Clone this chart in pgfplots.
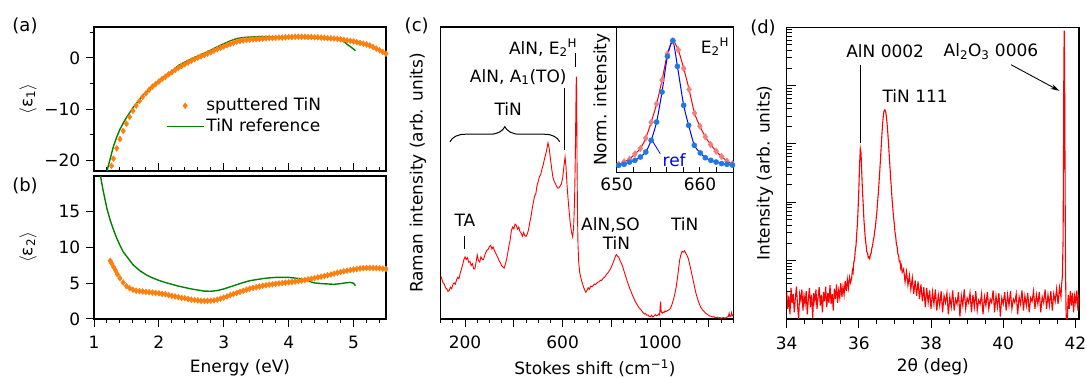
\documentclass[border=0pt]{standalone}
\usepackage{pgfplots}
\pgfplotsset{compat=1.18}
\usepackage{fontspec}
\setmainfont{DejaVu Sans}
\usetikzlibrary{decorations.pathreplacing,arrows.meta}
\definecolor{myorange}{RGB}{255,127,14}
\definecolor{mygreen}{RGB}{0,128,0}
\definecolor{lcoral}{RGB}{240,128,128}
\definecolor{mblue}{RGB}{30,120,230}
\newcommand{\fs}{\fontsize{17}{20}\selectfont}
\pgfplotsset{
  every axis/.append style={
    scale only axis,
    axis line style={line width=1.1pt, black},
    tick style={black, line width=1pt},
    major tick length=8pt,
    minor tick length=4pt,
    tick align=outside,
    /pgf/number format/assume math mode=true,
    tick label style={font=\fs},
    label style={font=\fs},
  },
  every axis y label/.style={rotate=90, anchor=center},
  every axis x label/.style={anchor=center},
}
\begin{document}
\fs
\begin{tikzpicture}
\path[use as bounding box] (0pt,0pt) rectangle (1087pt,379pt);

% ---------------- (a)
\begin{axis}[at={(94pt,208pt)}, anchor=south west, width=292pt, height=144pt,
  xmin=1, xmax=5.5, ymin=-22, ymax=6,
  xtick={1,2,3,4,5}, xticklabels={},
  minor xtick={1.2,1.4,1.6,1.8,2.2,2.4,2.6,2.8,3.2,3.4,3.6,3.8,4.2,4.4,4.6,4.8,5.2,5.4},
  xtick align=inside, ytick align=outside,
  ytick={-20,-10,0}, yticklabels={−20,−10,0}, minor ytick={-15,-5,5},
  xtick pos=left, ytick pos=left,
  ylabel={$\langle$ε\textsubscript{1}$\rangle$},
  ylabel style={at={(rel axis cs:-0.226,0.5)}},
  legend cell align=left,
  legend style={draw=none, fill=none, at={(axis cs:2.06,-7.0)}, anchor=north west, row sep=1pt, font=\fs},
  legend image code/.code={\draw[mark repeat=2,mark phase=2,#1] plot coordinates {(0pt,0pt) (18.5pt,0pt) (37pt,0pt)};},
]
\addplot[only marks, mark=diamond*, mark size=3pt, color=myorange] coordinates {
(1.27,-21.0)(1.30,-19.6)(1.35,-17.6)(1.40,-15.8)(1.45,-14.2)(1.50,-12.8)(1.55,-11.5)(1.60,-10.3)
(1.65,-9.3)(1.70,-8.4)(1.75,-7.6)(1.80,-6.9)(1.85,-6.2)(1.90,-5.6)(1.95,-5.1)(2.00,-4.6)
(2.05,-4.1)(2.10,-3.7)(2.15,-3.2)(2.20,-2.8)(2.25,-2.35)(2.30,-1.95)(2.35,-1.6)(2.40,-1.25)
(2.45,-0.9)(2.50,-0.55)(2.55,-0.25)(2.60,0.05)(2.65,0.3)(2.70,0.55)(2.75,0.85)(2.80,1.1)
(2.85,1.4)(2.90,1.7)(2.95,1.95)(3.00,2.2)(3.05,2.45)(3.10,2.7)(3.15,2.95)(3.20,3.15)
(3.25,3.3)(3.30,3.4)(3.35,3.5)(3.40,3.55)(3.45,3.6)(3.50,3.65)(3.55,3.7)(3.60,3.75)
(3.65,3.8)(3.70,3.85)(3.75,3.85)(3.80,3.9)(3.85,3.95)(3.90,3.95)(3.95,4.0)(4.00,4.05)
(4.05,4.05)(4.10,4.1)(4.15,4.1)(4.20,4.1)(4.25,4.1)(4.30,4.05)(4.35,4.05)(4.40,4.0)
(4.45,4.0)(4.50,3.95)(4.55,3.9)(4.60,3.85)(4.65,3.8)(4.70,3.75)(4.75,3.7)(4.80,3.6)
(4.85,3.5)(4.90,3.4)(4.95,3.3)(5.00,3.2)(5.05,3.05)(5.10,2.9)(5.15,2.75)(5.20,2.6)
(5.25,2.4)(5.30,2.1)(5.35,1.8)(5.40,1.5)(5.45,1.15)(5.50,0.8)};
\addlegendentry{sputtered TiN}
\addplot[mygreen, line width=1.4pt] coordinates {
(1.20,-22.0)(1.21,-21.5)(1.25,-19.6)(1.30,-17.2)(1.35,-15.4)(1.40,-13.9)(1.45,-12.7)(1.50,-11.6)
(1.60,-9.7)(1.70,-8.1)(1.80,-6.7)(1.90,-5.5)(2.00,-4.4)(2.10,-3.4)(2.20,-2.6)(2.30,-1.5)
(2.40,-0.8)(2.50,-0.2)(2.60,0.35)(2.70,0.9)(2.80,1.5)(2.90,2.15)(3.00,2.75)(3.10,3.3)
(3.20,3.75)(3.30,3.95)(3.40,4.05)(3.50,4.1)(3.60,4.15)(3.70,4.1)(3.80,4.05)(3.90,4.05)
(4.00,4.0)(4.10,4.0)(4.20,3.95)(4.30,3.9)(4.40,3.85)(4.50,3.75)(4.60,3.7)(4.70,3.65)
(4.75,3.6)(4.80,3.6)(4.85,3.2)(4.90,2.6)(4.95,2.2)(5.00,1.7)(5.03,1.4)};
\addlegendentry{TiN reference}
\end{axis}

% ---------------- (b)
\begin{axis}[at={(94pt,60pt)}, anchor=south west, width=292pt, height=143pt,
  xmin=1, xmax=5.5, ymin=0, ymax=20,
  xtick={1,2,3,4,5},
  minor xtick={1.2,1.4,1.6,1.8,2.2,2.4,2.6,2.8,3.2,3.4,3.6,3.8,4.2,4.4,4.6,4.8,5.2,5.4},
  ytick={0,5,10,15},
  xtick pos=left, ytick pos=left,
  xticklabel style={yshift=-3pt},
  xlabel={Energy (eV)},
  xlabel style={at={(rel axis cs:0.5,-0.343)}},
  ylabel={$\langle$ε\textsubscript{2}$\rangle$},
  ylabel style={at={(rel axis cs:-0.226,0.5)}},
]
\addplot[only marks, mark=diamond*, mark size=3pt, color=myorange] coordinates {
(1.25,8.15)(1.27,7.8)(1.30,7.3)(1.33,6.8)(1.36,6.25)(1.40,5.7)(1.45,5.1)(1.50,4.6)
(1.55,4.3)(1.60,4.1)(1.65,3.95)(1.70,3.9)(1.75,3.85)(1.80,3.8)(1.85,3.75)(1.90,3.7)
(1.95,3.65)(2.00,3.6)(2.05,3.5)(2.10,3.45)(2.15,3.35)(2.20,3.25)(2.25,3.15)(2.30,3.05)
(2.35,2.95)(2.40,2.9)(2.45,2.8)(2.50,2.7)(2.55,2.65)(2.60,2.6)(2.65,2.55)(2.70,2.55)
(2.75,2.55)(2.80,2.55)(2.85,2.6)(2.90,2.7)(2.95,2.85)(3.00,3.0)(3.05,3.15)(3.10,3.35)
(3.15,3.5)(3.20,3.65)(3.25,3.8)(3.30,3.95)(3.35,4.1)(3.40,4.25)(3.45,4.35)(3.50,4.45)
(3.55,4.55)(3.60,4.65)(3.65,4.72)(3.70,4.8)(3.75,4.85)(3.80,4.92)(3.85,4.97)(3.90,5.03)
(3.95,5.08)(4.00,5.13)(4.05,5.18)(4.10,5.24)(4.15,5.3)(4.20,5.37)(4.25,5.45)(4.30,5.55)
(4.35,5.62)(4.40,5.72)(4.45,5.82)(4.50,5.92)(4.55,6.02)(4.60,6.12)(4.65,6.22)(4.70,6.35)
(4.75,6.47)(4.80,6.57)(4.85,6.67)(4.90,6.77)(4.95,6.85)(5.00,6.93)(5.05,7.0)(5.10,7.07)
(5.15,7.12)(5.20,7.14)(5.25,7.15)(5.30,7.13)(5.35,7.12)(5.40,7.1)(5.45,7.05)(5.50,7.0)};
\addplot[mygreen, line width=1.4pt] coordinates {
(1.10,20.0)(1.12,19.0)(1.14,18.0)(1.17,16.7)(1.20,15.4)(1.25,13.8)(1.30,12.5)(1.35,11.3)
(1.40,10.3)(1.45,9.4)(1.50,8.8)(1.60,7.6)(1.70,6.8)(1.80,6.2)(1.90,5.75)(2.00,5.4)
(2.10,5.1)(2.20,4.85)(2.30,4.6)(2.40,4.4)(2.50,4.2)(2.60,4.05)(2.70,3.9)(2.80,3.88)
(2.90,3.98)(3.00,4.2)(3.10,4.5)(3.20,4.8)(3.30,5.1)(3.40,5.35)(3.50,5.5)(3.60,5.65)
(3.70,5.75)(3.80,5.82)(3.90,5.82)(4.00,5.82)(4.10,5.72)(4.20,5.6)(4.30,5.3)(4.40,5.05)
(4.50,4.95)(4.60,4.9)(4.70,4.85)(4.80,4.95)(4.90,5.08)(4.95,5.12)(5.00,5.0)(5.03,4.66)};
\end{axis}

% ---------------- (c)
\begin{axis}[at={(440.7pt,60pt)}, anchor=south west, width=292.6pt, height=292pt,
  xmin=100, xmax=1300, ymin=0, ymax=100,
  xtick={200,400,600,800,1000,1200}, xticklabels={200,,600,,1000,},
  minor xtick={100,150,250,300,350,450,500,550,650,700,750,850,900,950,1050,1100,1150,1250,1300},
  ytick=\empty, xtick pos=left,
  xticklabel style={yshift=-3pt},
  xlabel={Stokes shift (cm\textsuperscript{−1})},
  xlabel style={at={(rel axis cs:0.527,-0.168)}},
  ylabel={Raman intensity (arb. units)},
  ylabel style={at={(rel axis cs:-0.0776,0.5)}},
]
\addplot[red, line width=0.9pt] coordinates {
(100,14.8)(105,13.6)(110,12.4)(115,11.9)(120,10.7)(125,10.3)(130,9.4)(135,9.8)(140,10.9)(145,10.4)
(150,11.8)(155,12.4)(160,11.9)(165,13.4)(170,14.3)(175,13.8)(180,15.7)(185,17.1)(190,18.5)(195,20.3)
(200,21.3)(205,20.4)(210,21.0)(215,19.4)(220,19.7)(225,18.3)(230,18.9)(235,17.3)(240,17.1)(245,19.4)
(250,21.9)(255,20.0)(260,19.5)(265,21.3)(270,20.5)(275,20.3)(280,21.6)(285,22.8)(290,23.6)(295,23.9)
(300,24.9)(305,25.2)(310,24.0)(315,24.7)(320,23.5)(325,22.6)(330,21.8)(335,20.9)(340,19.9)(345,19.2)
(350,18.2)(355,17.9)(360,17.4)(365,18.7)(370,20.3)(375,22.6)(380,25.1)(385,27.2)(390,30.3)(395,31.5)
(400,30.9)(405,32.5)(410,32.1)(415,30.8)(420,31.5)(425,29.9)(430,29.4)(435,28.3)(440,29.6)(445,28.5)
(450,28.3)(455,29.1)(460,30.5)(465,32.9)(470,34.9)(475,37.7)(480,40.0)(485,42.0)(490,42.9)(495,45.7)
(500,47.1)(505,48.8)(510,49.4)(515,51.3)(520,52.7)(525,54.6)(530,56.2)(535,58.1)(540,60.3)(545,58.4)
(550,55.0)(555,51.6)(560,48.6)(565,47.2)(570,46.4)(575,45.5)(580,44.8)(585,44.9)(590,45.6)(595,46.3)
(600,48.2)(605,52.0)(610,55.5)(614,52.0)(618,46.0)(622,41.5)(626,37.5)(630,34.0)(634,31.0)(638,29.2)
(641,28.2)(645,31.0)(649,40.8)(652,55.0)(654,70.0)(655.5,80.0)(656.5,83.0)(657.5,77.0)(659,55.0)(661,36.0)
(663,25.5)(666,19.5)(670,16.0)(675,14.0)(680,12.5)(685,11.2)(690,10.0)(695,9.2)(700,9.8)(705,10.7)
(710,10.2)(715,11.3)(720,11.0)(725,11.4)(730,12.0)(735,11.8)(740,12.3)(745,12.6)(750,12.8)(755,13.3)
(760,13.2)(765,13.8)(770,14.2)(775,14.6)(780,15.3)(785,15.7)(790,16.3)(795,17.0)(800,17.9)(805,18.8)
(810,20.0)(815,21.1)(820,22.1)(825,21.5)(830,21.2)(835,20.1)(840,19.2)(845,18.3)(850,16.9)(855,15.6)
(860,14.2)(865,12.9)(870,11.7)(875,10.5)(880,9.6)(885,8.4)(890,7.5)(895,6.5)(900,5.7)(905,5.0)
(910,4.3)(915,3.7)(920,3.3)(925,2.7)(930,2.2)(935,1.7)(940,1.9)(945,1.3)(950,1.4)(955,0.9)
(960,0.8)(965,1.3)(970,0.7)(975,1.0)(980,1.5)(985,1.1)(990,1.3)(995,1.8)(998,1.4)(1000,4.3)
(1002,5.9)(1004,2.6)(1008,2.0)(1012,2.4)(1016,2.2)(1020,2.8)(1025,2.5)(1030,2.9)(1035,3.1)(1040,3.4)
(1045,4.2)(1050,5.4)(1055,6.8)(1060,8.5)(1065,10.6)(1070,13.5)(1075,16.8)(1080,20.2)(1085,22.0)(1090,23.2)
(1095,22.9)(1100,23.4)(1105,22.5)(1110,21.8)(1115,20.8)(1120,19.1)(1125,17.2)(1130,15.3)(1135,13.4)(1140,11.4)
(1145,9.4)(1150,7.9)(1155,6.5)(1160,5.3)(1165,4.3)(1170,3.6)(1175,3.0)(1180,2.6)(1185,2.1)(1190,1.8)
(1195,1.5)(1200,1.2)(1205,1.0)(1210,0.9)(1215,0.7)(1220,0.8)(1225,0.5)(1230,0.4)(1235,0.6)(1240,0.3)
(1245,0.5)(1250,0.2)(1255,0.4)(1260,0.5)(1265,0.3)(1270,0.4)(1275,0.7)(1280,0.9)(1283,2.0)(1286,0.8)
(1290,1.0)(1293,2.2)(1296,1.1)(1300,1.4)};
\node at (axis cs:199.6,33.9) {TA};
\draw[line width=1pt] (axis cs:199.6,28.4) -- (axis cs:199.6,24.0);
\draw[line width=1pt, decorate, decoration={brace, amplitude=15pt}] (axis cs:138,60.7) -- (axis cs:588,60.7);
\node at (axis cs:377,71.9) {TiN};
\node at (axis cs:418,82.9) {AlN, A\textsubscript{1}(TO)};
\draw[line width=1pt] (axis cs:608,79.1) -- (axis cs:608,57.9);
\node at (axis cs:520,92.8) {AlN, E\textsubscript{2}\textsuperscript{H}};
\draw[line width=1pt] (axis cs:654.3,91.1) -- (axis cs:654.3,86.3);
\node at (axis cs:796.4,32.2) {AlN,SO};
\node at (axis cs:821,26.0) {TiN};
\node at (axis cs:1100.8,32.5) {TiN};
\end{axis}

% ---------------- inset
\begin{axis}[at={(616.7pt,206.7pt)}, anchor=south west, width=116.6pt, height=145.3pt,
  xmin=650, xmax=664, ymin=0, ymax=1.104,
  axis background/.style={fill=white},
  xtick={650,660}, minor xtick={652,654,656,658,662},
  tick align=inside, major tick length=5pt, minor tick length=5pt,
  ytick=\empty, xtick pos=left,
  ylabel={Norm. intensity},
  ylabel style={at={(rel axis cs:-0.129,0.5)}},
]
\addplot[only marks, mark=diamond*, mark size=3.3pt, color=lcoral] coordinates {
(650.24,0.06)(650.89,0.08)(651.54,0.10)(652.19,0.14)(652.84,0.18)(653.49,0.26)(654.14,0.38)
(654.79,0.52)(655.44,0.70)(656.09,0.90)(656.74,1.0)(657.39,0.93)(658.04,0.79)(658.69,0.63)
(659.34,0.45)(659.99,0.35)(660.64,0.27)(661.29,0.21)(661.94,0.16)(662.59,0.12)(663.24,0.085)(663.89,0.065)};
\addplot[red, line width=1pt, smooth, tension=0.4] coordinates {
(650,0.055)(650.24,0.06)(650.89,0.08)(651.54,0.10)(652.19,0.14)(652.84,0.18)(653.49,0.26)(654.14,0.38)
(654.79,0.52)(655.44,0.70)(656.09,0.90)(656.74,1.0)(657.39,0.93)(658.04,0.79)(658.69,0.63)
(659.34,0.45)(659.99,0.35)(660.64,0.27)(661.29,0.21)(661.94,0.16)(662.59,0.12)(663.24,0.085)(664,0.06)};
\addplot[only marks, mark=*, mark size=2.6pt, color=mblue] coordinates {
(650.24,0.053)(650.89,0.061)(651.54,0.078)(652.19,0.091)(652.84,0.116)(653.49,0.154)(654.14,0.243)
(654.79,0.382)(655.44,0.61)(656.09,0.881)(656.74,1.0)(657.29,0.805)(658.04,0.509)(658.64,0.357)
(659.32,0.205)(660.04,0.147)(660.64,0.111)(661.3,0.091)(661.94,0.078)(662.59,0.066)(663.24,0.061)(663.89,0.055)};
\addplot[blue, line width=1pt, smooth, tension=0.4] coordinates {
(650,0.045)(650.24,0.053)(650.89,0.061)(651.54,0.078)(652.19,0.091)(652.84,0.116)(653.49,0.154)(654.14,0.243)
(654.79,0.382)(655.44,0.61)(656.09,0.881)(656.74,1.0)(657.29,0.805)(658.04,0.509)(658.64,0.357)
(659.32,0.205)(660.04,0.147)(660.64,0.111)(661.3,0.091)(661.94,0.078)(662.59,0.066)(663.24,0.061)(664,0.052)};
\node at (axis cs:661.8,0.952) {E\textsubscript{2}\textsuperscript{H}};
\node[text=blue] at (axis cs:656.9,0.0935) {ref};
\draw[blue, line width=0.8pt] (axis cs:654.24,0.243) -- (axis cs:655.23,0.141);
\end{axis}

% ---------------- (d)
\begin{axis}[at={(786.7pt,60pt)}, anchor=south west, width=292.3pt, height=291.7pt,
  xmin=34, xmax=42.1, ymode=log, ymin=1, ymax=1e5,
  xtick={34,36,38,40,42}, minor x tick num=3,
  ytick={1,10,100,1000,10000,100000}, yticklabels={},
  xtick align=outside, ytick align=inside,
  major tick length=9pt, minor tick length=5pt,
  xtick pos=left, ytick pos=left,
  xticklabel style={yshift=-3pt},
  xlabel={2θ (deg)},
  xlabel style={at={(rel axis cs:0.5,-0.165)}},
  ylabel={Intensity (arb. units)},
  ylabel style={at={(rel axis cs:-0.0742,0.5)}},
]
\addplot[red, line width=1.1pt] coordinates {
(34.00,2.9)(34.03,1.5)(34.06,2.5)(34.09,1.2)(34.12,3.4)(34.15,1.9)(34.18,2.7)(34.21,1.3)(34.24,2.3)(34.27,3.6)
(34.30,1.7)(34.33,1.0)(34.36,2.7)(34.39,2.1)(34.42,3.2)(34.45,1.4)(34.48,2.5)(34.51,1.8)(34.54,3.0)(34.57,1.2)
(34.60,2.2)(34.63,3.4)(34.66,1.6)(34.69,2.6)(34.72,1.05)(34.75,2.8)(34.78,2.0)(34.81,3.2)(34.84,1.5)(34.87,2.4)
(34.90,3.5)(34.93,1.7)(34.96,2.6)(34.99,1.3)(35.02,2.9)(35.05,2.0)(35.08,3.6)(35.11,1.6)(35.14,2.8)(35.17,1.9)
(35.20,3.8)(35.23,1.8)(35.26,2.7)(35.29,1.4)(35.32,3.3)(35.35,2.2)(35.38,3.9)(35.41,1.9)(35.44,3.1)(35.47,2.3)
(35.50,4.1)(35.53,2.4)(35.56,3.6)(35.59,2.6)(35.62,4.5)(35.65,3.0)(35.68,4.8)(35.71,3.4)(35.74,5.2)(35.77,4.2)
(35.80,5.0)(35.82,6.9)(35.84,6.3)(35.86,9.6)(35.88,10.2)(35.90,15)(35.92,18)(35.94,29)(35.96,43)(35.98,82)
(36.00,175)(36.02,450)(36.04,830)(36.06,700)(36.08,320)(36.10,155)(36.12,92)(36.14,50)(36.16,34)(36.18,23)
(36.20,18.5)(36.22,14.2)(36.24,13.4)(36.26,11.2)(36.28,11.6)(36.30,10.8)(36.32,12.8)(36.34,13.3)(36.36,16.4)(36.38,18.0)
(36.40,22.6)(36.42,25.5)(36.44,32.5)(36.46,39)(36.48,53)(36.50,70)(36.52,102)(36.54,146)(36.56,226)(36.58,352)
(36.60,565)(36.62,930)(36.64,1510)(36.66,2290)(36.68,3160)(36.70,3715)(36.72,3850)(36.74,3630)(36.76,3020)(36.78,2290)
(36.80,1590)(36.82,1050)(36.84,660)(36.86,420)(36.88,262)(36.90,176)(36.92,113)(36.94,81)(36.96,56)(36.98,44)
(37.00,31)(37.02,26)(37.04,19)(37.06,17.5)(37.08,13)(37.10,12.4)(37.12,9.6)(37.14,9.8)(37.16,7.4)(37.18,8.2)
(37.20,6.3)(37.24,7.2)(37.28,4.3)(37.32,6.5)(37.36,3.8)(37.40,5.6)(37.44,3.2)(37.48,5.1)(37.52,2.7)(37.56,4.6)
(37.60,2.5)(37.64,4.4)(37.68,2.2)(37.72,3.9)(37.76,2.0)(37.80,3.5)(37.84,1.6)(37.88,3.4)(37.92,1.9)(37.96,3.1)
(38.00,1.5)(38.04,2.9)(38.08,1.8)(38.12,3.2)(38.16,1.4)(38.20,2.6)(38.24,1.7)(38.28,3.0)(38.32,1.3)(38.36,2.5)
(38.40,1.9)(38.44,2.8)(38.48,1.2)(38.52,2.4)(38.56,1.6)(38.60,3.1)(38.64,1.4)(38.68,2.2)(38.72,1.8)(38.76,2.9)
(38.80,1.1)(38.84,2.5)(38.88,1.7)(38.92,3.2)(38.96,1.5)(39.00,2.3)(39.04,1.9)(39.08,2.8)(39.12,1.3)(39.16,2.6)
(39.20,1.6)(39.24,3.0)(39.28,1.4)(39.32,2.1)(39.36,1.8)(39.40,2.7)(39.44,1.2)(39.48,2.4)(39.52,1.7)(39.56,2.9)
(39.60,1.5)(39.64,2.2)(39.68,1.9)(39.72,3.1)(39.76,1.3)(39.80,2.5)(39.84,1.6)(39.88,2.8)(39.92,1.1)(39.96,2.3)
(40.00,1.8)(40.04,2.9)(40.08,1.4)(40.12,2.6)(40.16,1.7)(40.20,3.0)(40.24,1.5)(40.28,2.2)(40.32,1.9)(40.36,2.7)
(40.40,1.2)(40.44,2.4)(40.48,1.8)(40.52,3.1)(40.56,1.4)(40.60,2.5)(40.64,1.7)(40.68,2.8)(40.72,1.3)(40.76,2.3)
(40.80,2.0)(40.84,3.0)(40.88,1.5)(40.92,2.6)(40.96,1.8)(41.00,2.9)(41.04,1.3)(41.08,2.4)(41.12,1.9)(41.16,3.2)
(41.20,1.5)(41.24,2.6)(41.28,1.7)(41.32,3.0)(41.36,1.4)(41.40,2.7)(41.44,2.0)(41.48,3.3)(41.52,1.8)(41.56,3.5)
(41.60,2.4)(41.62,4.0)(41.64,5.5)(41.66,25)(41.67,500)(41.68,20000)(41.69,88000)(41.70,25000)(41.71,900)(41.72,40)
(41.73,5)(41.74,1.6)(41.75,0.5)(41.76,0.4)(41.77,0.5)(41.78,1.1)(41.80,2.6)(41.83,1.5)(41.86,3.0)(41.89,1.7)
(41.92,2.8)(41.95,1.3)(41.98,2.5)(42.01,1.9)(42.04,3.1)(42.07,1.4)(42.10,2.6)};
\node at (axis cs:36.73,38460) {AlN 0002};
\draw[line width=1pt] (axis cs:36.05,22750) -- (axis cs:36.05,1032);
\node at (axis cs:37.56,6760) {TiN 111};
\node at (axis cs:39.66,38460) {Al\textsubscript{2}O\textsubscript{3} 0006};
\draw[line width=0.9pt, -{Stealth[length=9pt,width=5pt]}] (axis cs:40.22,22750) -- (axis cs:41.56,8147);
\end{axis}

% panel labels
\node[font=\fontsize{18}{21}\selectfont] at (25pt,353pt) {(a)};
\node[font=\fontsize{18}{21}\selectfont] at (25pt,193pt) {(b)};
\node[font=\fontsize{18}{21}\selectfont] at (416.7pt,353pt) {(c)};
\node[font=\fontsize{18}{21}\selectfont] at (763pt,351pt) {(d)};
\end{tikzpicture}
\end{document}
